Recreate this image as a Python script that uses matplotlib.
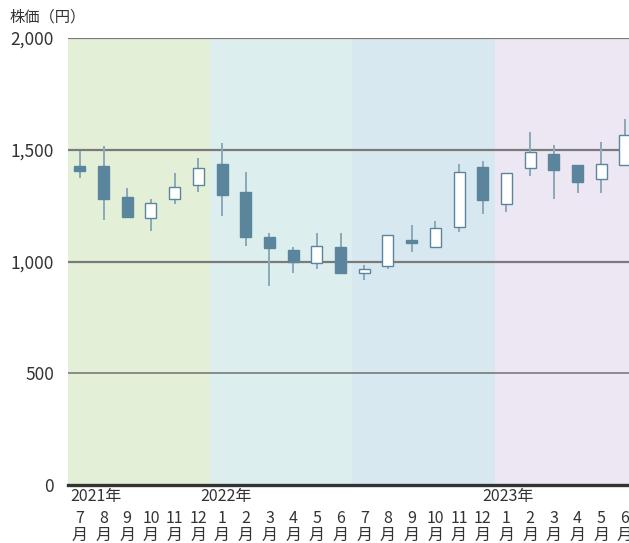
import matplotlib
matplotlib.use("Agg")
import matplotlib.pyplot as plt
import matplotlib.transforms as mtransforms
from matplotlib.patches import Rectangle

plt.rcParams['font.family'] = ['Noto Sans CJK JP', 'DejaVu Sans']

# 2021年7月 - 2023年6月 の月足
months = [7, 8, 9, 10, 11, 12, 1, 2, 3, 4, 5, 6,
          7, 8, 9, 10, 11, 12, 1, 2, 3, 4, 5, 6]
years = [(0, "2021年"), (5.5, "2022年"), (17.4, "2023年")]
open_ = [1428, 1428, 1287, 1193, 1281, 1341, 1436, 1310, 1108, 1053, 992, 1063,
         950, 980, 1096, 1066, 1156, 1423, 1257, 1420, 1481, 1432, 1368, 1433]
close = [1405, 1280, 1201, 1260, 1332, 1417, 1298, 1111, 1062, 996, 1068, 950,
         965, 1117, 1084, 1148, 1399, 1275, 1395, 1488, 1408, 1354, 1436, 1565]
high = [1494, 1518, 1330, 1278, 1397, 1462, 1530, 1402, 1126, 1066, 1129, 1126,
        983, 1117, 1162, 1183, 1435, 1448, 1395, 1578, 1520, 1432, 1535, 1638]
low = [1375, 1187, 1193, 1136, 1256, 1311, 1202, 1069, 890, 950, 965, 943,
       917, 965, 1043, 1060, 1131, 1214, 1220, 1384, 1281, 1308, 1305, 1433]
band_colors = ['#e4efd7', '#dcefee', '#d8e8f1', '#ede6f3']

C_DARK = '#5a859c'
C_WICK = '#8aa9b9'

fig = plt.figure(figsize=(6.29, 5.43), dpi=100)
W, H = 629, 543
ax = fig.add_axes([68 / W, (H - 485) / H, 24 * 23.7 / W, 447 / H])
ax.set_xlim(-0.5, 23.5)
ax.set_ylim(0, 2000)

# 半年ごとの背景
for i, c in enumerate(band_colors):
    ax.axvspan(i * 6 - 0.5, i * 6 + 5.5, color=c, lw=0, zorder=0)

for v in [500, 1000, 1500, 2000]:
    ax.axhline(v, color='#7a7a7a', lw=1.6 if v != 500 else 1.2, zorder=1)
ax.axhline(0, color='#333333', lw=2.4, zorder=5, clip_on=False)

bw = 0.46
for i in range(len(months)):
    ax.plot([i, i], [low[i], high[i]], color=C_WICK, lw=1.4, zorder=2,
            solid_capstyle='butt')
    up = close[i] >= open_[i]
    bottom = min(open_[i], close[i])
    h = abs(close[i] - open_[i])
    ax.add_patch(Rectangle((i - bw / 2, bottom), bw, h,
                           facecolor='white' if up else C_DARK,
                           edgecolor=C_DARK, lw=1.0, zorder=3))

for s in ax.spines.values():
    s.set_visible(False)

ax.set_yticks([0, 500, 1000, 1500, 2000])
ax.set_yticklabels(['0', '500', '1,000', '1,500', '2,000'],
                   fontsize=12.5, color='#333333')
ax.tick_params(axis='y', length=0, pad=10)

ax.set_xticks(range(len(months)))
ax.set_xticklabels([f"{m}\n月" for m in months], fontsize=11.5,
                   color='#333333', linespacing=1.0)
ax.tick_params(axis='x', length=0, pad=18)

trans = mtransforms.blended_transform_factory(ax.transData, fig.transFigure)
for x, lab in years:
    ax.text(x - 0.4, 1 - 497 / H, lab, transform=trans, fontsize=11.5,
            color='#333333', ha='left', va='center')

fig.text(10 / W, 1 - 17 / H, "株価（円）", fontsize=11, color='#333333',
         ha='left', va='center')

fig.savefig("out.png", dpi=100)
